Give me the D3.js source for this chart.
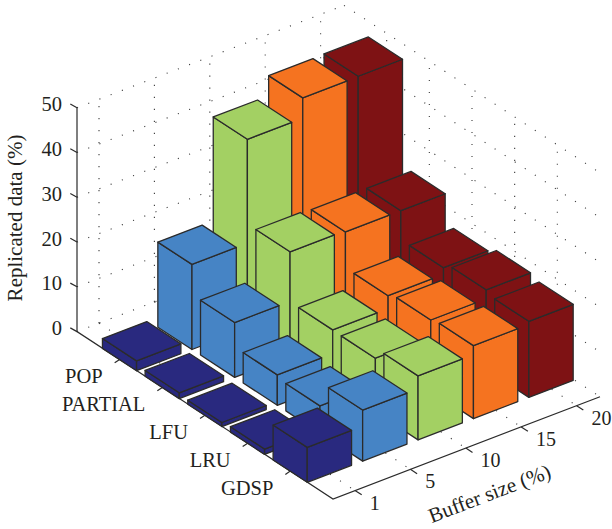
<!DOCTYPE html>
<html>
<head>
<meta charset="utf-8">
<script src="https://cdn.jsdelivr.net/npm/d3@7"></script>
<style>
html,body{margin:0;padding:0;background:#fff;}
svg{display:block;}
text{font-family:"Liberation Serif","DejaVu Serif",serif;fill:#231f20;}
</style>
</head>
<body>
<div id="chart"></div>
<script>
const policies = ["POP", "PARTIAL", "LFU", "LRU", "GDSP"];
const bufferSizes = ["1", "5", "10", "15", "20"];
const zTicks = [0, 10, 20, 30, 40, 50];
const buffer1 = [2.2, 1.3, 0.9, 1.2, 7.8];
const buffer5 = [19.0, 12.25, 6.8, 6.1, 11.4];
const buffer10 = [42.2, 23.3, 12.1, 12.0, 14.3];
const buffer15 = [46.7, 23.0, 15.0, 15.8, 16.3];
const buffer20 = [46.8, 23.0, 16.5, 17.8, 17.0];
const seriesValues = [buffer1, buffer5, buffer10, buffer15, buffer20];
const seriesColors = ["#29297f", "#4684c5", "#a3d063", "#f57320", "#7e1214"];

const W = 612, H = 529;
const svg = d3.select("#chart").append("svg").attr("width", W).attr("height", H);

// Oblique 3-D frame: corner of the z axis, and the two floor axes as pixel vectors
const origin = [77, 331.6];
const policyAxis = [256, 167.4];
const bufferAxis = [267, -102.3];
const pScale = d3.scaleLinear().domain([0, 6]).range([0, 1]);
const bScale = d3.scaleLinear().domain([0, 4]).range([0.0824, 0.9124]);
const zScale = d3.scaleLinear().domain([0, 50]).range([0, 223.9]);

// p: policy position (1..5), b: buffer position (0..4), z: value
function proj(p, b, z) {
  const u = pScale(p), v = bScale(b);
  return [origin[0] + u * policyAxis[0] + v * bufferAxis[0],
          origin[1] + u * policyAxis[1] + v * bufferAxis[1] - zScale(z)];
}
const bMin = bScale.invert(0), bMax = bScale.invert(1);
const line = d3.line();

// Dotted grid
const grid = svg.append("g").attr("fill", "none").attr("stroke", "#3a3a3a")
  .attr("stroke-width", 1.1).attr("stroke-dasharray", "1.1 10.9");
function gridLine(a, b) { grid.append("path").attr("d", line([a, b])); }
zTicks.forEach(z => {
  gridLine(proj(0, bMin, z), proj(0, bMax, z));
  gridLine(proj(0, bMax, z), proj(6, bMax, z));
});
bufferSizes.forEach((_, b) => {
  gridLine(proj(0, b, 0), proj(0, b, 50));
  gridLine(proj(0, b, 0), proj(6, b, 0));
});
policies.forEach((_, i) => {
  gridLine(proj(i + 1, bMax, 0), proj(i + 1, bMax, 50));
  gridLine(proj(i + 1, bMin, 0), proj(i + 1, bMax, 0));
});

// Axes
const axisColor = "#2b2b2b";
const axes = svg.append("g").attr("fill", "none").attr("stroke", axisColor).attr("stroke-width", 1.2);
axes.append("path").attr("d", line([proj(0, bMin, 50), proj(0, bMin, 0), proj(6, bMin, 0), proj(6, bMax, 0)]));

const labels = svg.append("g").attr("font-size", 20.5);
zTicks.forEach(z => {
  const t = proj(0, bMin, z);
  axes.append("path").attr("d", line([t, [t[0] - 6.7, t[1] - 3.7]]));
  labels.append("text").attr("x", t[0] - 15).attr("y", t[1] + 3.5).attr("text-anchor", "end").text(z);
});
policies.forEach((name, i) => {
  const t = proj(i + 1, bMin, 0);
  axes.append("path").attr("d", line([t, [t[0] - 5, t[1] + 3.3]]));
  labels.append("text").attr("x", t[0] - 17).attr("y", t[1] + 23.5).attr("text-anchor", "end").text(name);
});
bufferSizes.forEach((name, b) => {
  const t = proj(6, b, 0);
  axes.append("path").attr("d", line([t, [t[0] + 6.7, t[1] + 4.3]]));
  labels.append("text").attr("x", t[0] + 14.8).attr("y", t[1] + 19).attr("font-size", 20).text(name);
});
labels.append("text").attr("transform", "translate(22,218) rotate(-90)").attr("font-size", 21)
  .attr("text-anchor", "middle").text("Replicated data (%)");
labels.append("text").attr("transform", "translate(492,500) rotate(-21)").attr("font-size", 21)
  .attr("text-anchor", "middle").text("Buffer size (%)");

// Bars, painted from back to front
const half = 0.4;
const bars = svg.append("g").attr("stroke", axisColor).attr("stroke-width", 1.3).attr("stroke-linejoin", "round");
for (let b = bufferSizes.length - 1; b >= 0; b--) {
  policies.forEach((_, i) => {
    const p = i + 1, z = seriesValues[b][i], c = seriesColors[b];
    const fb = proj(p + half, b - half, 0), ft = proj(p + half, b - half, z);
    const lb = proj(p - half, b - half, 0), lt = proj(p - half, b - half, z);
    const rb = proj(p + half, b + half, 0), rt = proj(p + half, b + half, z);
    const bt = proj(p - half, b + half, z);
    const g = bars.append("g").attr("fill", c);
    g.append("path").attr("d", line([lb, fb, ft, lt]) + "Z");
    g.append("path").attr("d", line([fb, rb, rt, ft]) + "Z");
    g.append("path").attr("d", line([lt, ft, rt, bt]) + "Z");
  });
}
</script>
</body>
</html>
